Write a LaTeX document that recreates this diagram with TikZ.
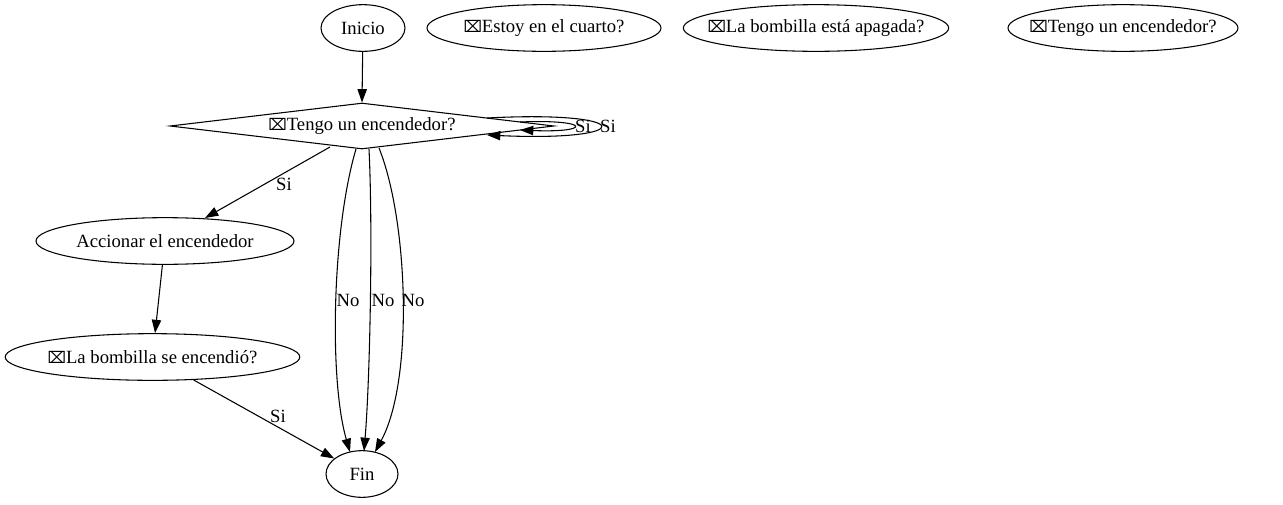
\documentclass[tikz,border=0pt]{standalone}
\usepackage{fontspec}
\setmainfont{Liberation Serif}
\newfontfamily\dvfont{DejaVu Sans}
\usetikzlibrary{shapes.geometric,arrows.meta,calc}
\newcommand\tofu{{\dvfont\fontsize{12}{14}\selectfont ⌧}}
\begin{document}
\begin{tikzpicture}[x=0.75pt,y=-0.75pt,
  font=\fontsize{14}{16}\selectfont,
  line width=0.8pt,
  >={Triangle[length=10pt,width=7pt]},
  ell/.style={ellipse,draw,inner sep=0pt,minimum height=35pt},
  lbl/.style={inner sep=0pt}]
\useasboundingbox (0,0) rectangle (1283,504);
% nodes
\node[ell,minimum width=63pt] (inicio) at (363,28) {};
\node[lbl] (inicio-t) at (inicio) {Inicio};
\node[ell,minimum width=175.5pt] (estoy) at (544,28) {};
\node[lbl] (estoy-t) at (estoy) {\tofu Estoy en el cuarto?};
\node[ell,minimum width=199pt] (apagada) at (816,28) {};
\node[lbl] (apagada-t) at (apagada) {\tofu La bombilla está apagada?};
\node[ell,minimum width=172.5pt] (tengob) at (1123,28) {};
\node[lbl] (tengob-t) at (tengob) {\tofu Tengo un encendedor?};
\node[diamond,draw,inner sep=0pt,aspect=8,minimum width=288pt,minimum height=34.5pt] (d) at (362,126) {};
\node[lbl] (d-t) at (d) {\tofu Tengo un encendedor?};
\node[ell,minimum width=193.5pt] (acc) at (165,241) {};
\node[lbl] (acc-t) at (acc) {Accionar el encendedor};
\node[ell,minimum width=221pt] (bomb) at (152.5,357) {};
\node[lbl] (bomb-t) at (bomb) {\tofu La bombilla se encendió?};
\node[ell,minimum width=54pt] (fin) at (362,474) {};
\node[lbl] (fin-t) at (fin) {Fin};
% edges
\draw[->] (inicio) -- (d.north);
\draw[->] ($(d.center)+(-32,21)$) -- ($(acc.center)+(40,-23)$);
\node[lbl] (l1) at (284,184) {Si};
\draw[->] (acc) -- (bomb);
\draw[->] (bomb) -- (fin);
\node[lbl] (l2) at (278,416) {Si};
% No edges
\draw[->] ($(d.center)+(-6,23)$) .. controls (332,230) and (329,380) .. ($(fin.center)+(-12,-22)$);
\draw[->] ($(d.center)+(7,23)$) .. controls (373,230) and (370,380) .. ($(fin.center)+(2,-23)$);
\draw[->] ($(d.center)+(17,22)$) .. controls (408,220) and (414,380) .. ($(fin.center)+(13,-22)$);
\node[lbl] (n1) at (348,300) {No};
\node[lbl] (n2) at (383,300) {No};
\node[lbl] (n3) at (413,300) {No};
% self loops
\draw[->] ($(d.center)+(125,-8)$) .. controls (638,110) and (638,142) .. ($(d.center)+(125,9)$);
\draw[->] ($(d.center)+(158,-4)$) .. controls (592,119) and (592,133) .. ($(d.center)+(158,4)$);
\node[lbl] (s1) at (583,126) {Si};
\node[lbl] (s2) at (608,126) {Si};
\end{tikzpicture}
\end{document}
